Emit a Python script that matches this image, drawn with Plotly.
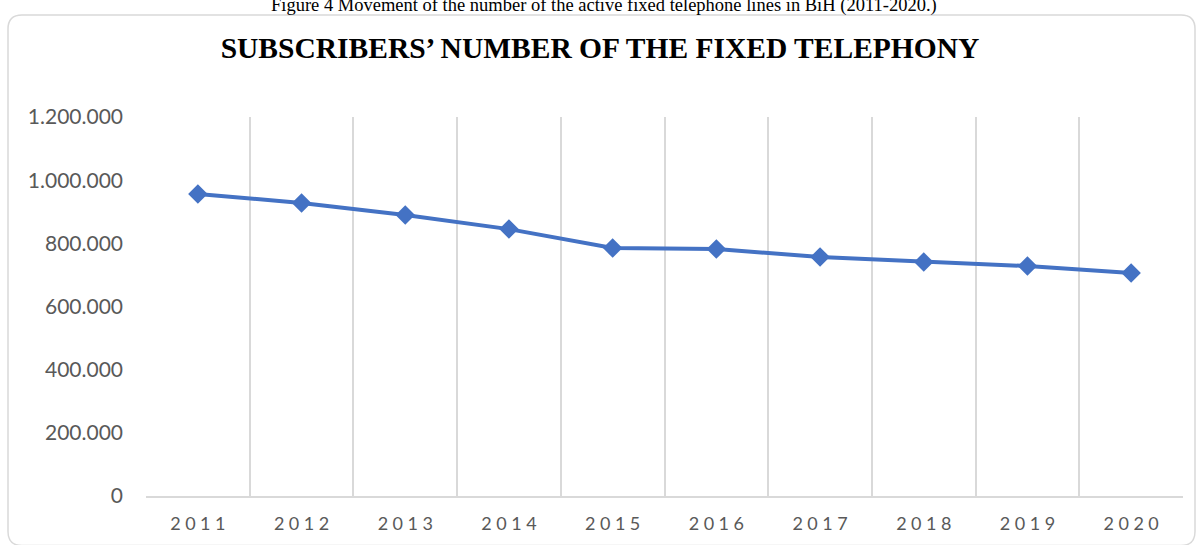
import plotly.graph_objects as go

# ---- data ----
years = ["2011", "2012", "2013", "2014", "2015", "2016", "2017", "2018", "2019", "2020"]
subscribers = [956000, 928000, 890000, 845000, 785000, 782000, 757000, 741000, 728000, 706000]
tick_labels = ["\u2005".join(y) for y in years]
y_ticks = [0, 200000, 400000, 600000, 800000, 1000000, 1200000]

title_text = "SUBSCRIBERS’ NUMBER OF THE FIXED TELEPHONY"
caption_text = "Figure 4 Movement of the number of the active fixed telephone lines in BiH (2011-2020.)"

# ---- layout geometry (pixels) ----
W, H = 1200, 545
PL, PR, PT, PB = 146, 1183, 117, 496


def px(x):
    return (x - PL) / (PR - PL)


def py(y):
    return (PB - y) / (PB - PT)


def rounded_rect(L, T, R, B, r):
    return (
        f"M {px(L + r)} {py(T)} L {px(R - r)} {py(T)} "
        f"Q {px(R)} {py(T)} {px(R)} {py(T + r)} "
        f"L {px(R)} {py(B - r)} Q {px(R)} {py(B)} {px(R - r)} {py(B)} "
        f"L {px(L + r)} {py(B)} Q {px(L)} {py(B)} {px(L)} {py(B - r)} "
        f"L {px(L)} {py(T + r)} Q {px(L)} {py(T)} {px(L + r)} {py(T)} Z"
    )


fig = go.Figure()
fig.add_trace(
    go.Scatter(
        x=years,
        y=subscribers,
        mode="lines+markers",
        line=dict(color="#4472C4", width=4),
        marker=dict(symbol="diamond", size=15, color="#4472C4"),
        showlegend=False,
        hoverinfo="x+y",
    )
)

fig.update_layout(
    width=W,
    height=H,
    margin=dict(l=PL, r=W - PR, t=PT, b=H - PB),
    paper_bgcolor="white",
    plot_bgcolor="white",
    separators=",.",
    title=dict(
        text=f"<b>{title_text}</b>",
        font=dict(family="Liberation Serif", size=29.5, color="black"),
        x=0.5,
        xref="container",
        xanchor="center",
        y=1 - 48 / H,
        yref="container",
        yanchor="middle",
    ),
    xaxis=dict(
        type="category",
        tickmode="array",
        tickvals=years,
        ticktext=tick_labels,
        tickson="boundaries",
        ticks="",
        showgrid=True,
        gridcolor="#d9d9d9",
        gridwidth=1.5,
        showline=True,
        linecolor="#d9d9d9",
        linewidth=1.5,
        tickfont=dict(family="Lato", size=18, color="#595959"),
        ticklabelstandoff=11,
        range=[-0.5, 9.5],
        fixedrange=True,
    ),
    yaxis=dict(
        range=[0, 1200000],
        tickmode="array",
        tickvals=y_ticks,
        tickformat=",d",
        showgrid=False,
        zeroline=False,
        showline=False,
        ticks="",
        tickfont=dict(family="Lato", size=21, color="#595959"),
        ticklabelstandoff=22,
        fixedrange=True,
    ),
    shapes=[
        dict(
            type="path",
            xref="paper",
            yref="paper",
            path=rounded_rect(8, 15, 1195, 545.5, 14),
            line=dict(color="#d9d9d9", width=1.5),
            fillcolor="rgba(0,0,0,0)",
            layer="below",
        )
    ],
    annotations=[
        dict(
            text=caption_text,
            xref="paper",
            yref="paper",
            x=px(604),
            y=py(6),
            xanchor="center",
            yanchor="middle",
            showarrow=False,
            font=dict(family="Liberation Serif", size=18.5, color="black"),
        )
    ],
)

fig.write_html(
    "out.html",
    config={"displayModeBar": False},
    post_script="document.body.style.margin='0';document.body.style.overflow='hidden';",
)
